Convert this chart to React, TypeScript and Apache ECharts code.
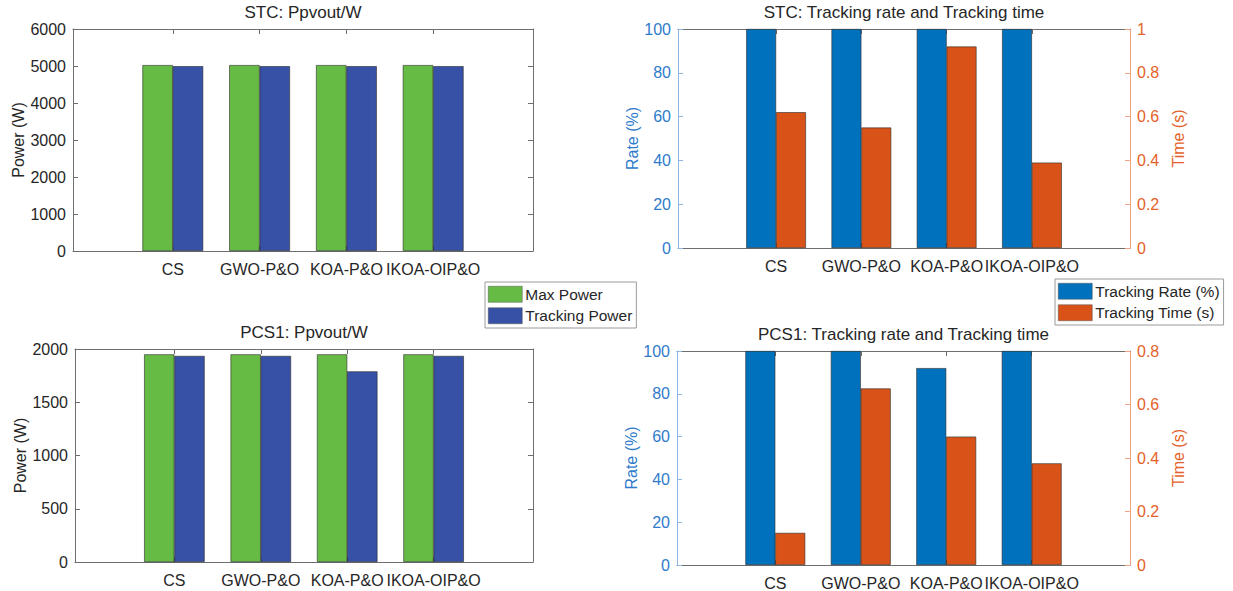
import React, { useEffect, useRef } from 'react';
import * as echarts from 'echarts';

const categories = ['CS', 'GWO-P&O', 'KOA-P&O', 'IKOA-OIP&O'];
const stcMaxPower = [5025, 5025, 5025, 5025];
const stcTrackingPower = [4995, 4995, 4995, 4995];
const pcsMaxPower = [1950, 1950, 1950, 1950];
const pcsTrackingPower = [1935, 1935, 1790, 1935];
const stcRate = [100, 100, 100, 100];
const stcTime = [0.62, 0.55, 0.92, 0.39];
const pcsRate = [100, 100, 92, 100];
const pcsTime = [0.12, 0.66, 0.48, 0.38];

const stcPowerTicks = [0, 1000, 2000, 3000, 4000, 5000, 6000];
const pcsPowerTicks = [0, 500, 1000, 1500, 2000];
const rateTicks = [0, 20, 40, 60, 80, 100];
const stcTimeTicks = [0, 0.2, 0.4, 0.6, 0.8, 1];
const pcsTimeTicks = [0, 0.2, 0.4, 0.6, 0.8];

const titles = [
  'STC: Ppvout/W',
  'STC: Tracking rate and Tracking time',
  'PCS1: Ppvout/W',
  'PCS1: Tracking rate and Tracking time',
];

const FONT = '"Liberation Sans", Arial, Helvetica, sans-serif';
const TEXT = '#262626';
const AXIS = '#6e6e6e';
const GREEN = '#66BB44';
const NAVY = '#3651A5';
const BLUE = '#0072BD';
const ORANGE = '#D95319';
const BLUE_TXT = '#2F7BCB';
const ORANGE_TXT = '#E3622A';
const BLUE_LINE = '#8DB6E2';
const ORANGE_LINE = '#F2A27F';

const catPos = categories.map((_, i) => i + 1);

const grids = [
  { left: 73, top: 29, width: 460, height: 222 },
  { left: 678, top: 29, width: 452, height: 219 },
  { left: 75, top: 349, width: 458, height: 213 },
  { left: 677, top: 351, width: 453, height: 216 },
];

function xAxes(g: number) {
  const base = (position: string, showLabels: boolean) => ({
    type: 'value',
    gridIndex: g,
    position,
    min: -0.15,
    max: 5.15,
    axisLine: { show: true, onZero: false, lineStyle: { color: AXIS, width: 1 } },
    axisTick: { show: true, inside: true, length: 5, customValues: catPos, lineStyle: { color: AXIS } },
    axisLabel: {
      show: showLabels,
      customValues: catPos,
      formatter: (v: number) => categories[Math.round(v) - 1] ?? '',
      color: TEXT,
      fontSize: 16,
      fontFamily: FONT,
      margin: 10,
    },
    splitLine: { show: false },
  });
  return [base('bottom', true), base('top', false)];
}

function yAxis(
  g: number,
  position: string,
  ticks: number[],
  opts: { labels: boolean; name?: string; nameGap?: number; lineColor: string; textColor: string; decimals?: boolean }
) {
  return {
    type: 'value',
    gridIndex: g,
    position,
    min: ticks[0],
    max: ticks[ticks.length - 1],
    interval: ticks[1] - ticks[0],
    name: opts.name,
    nameLocation: 'middle',
    nameRotate: 90,
    nameGap: opts.nameGap ?? 40,
    nameTextStyle: { color: opts.textColor, fontSize: 16, fontFamily: FONT },
    axisLine: { show: true, onZero: false, lineStyle: { color: opts.lineColor, width: 1 } },
    axisTick: { show: true, inside: true, length: 5, lineStyle: { color: opts.lineColor } },
    axisLabel: {
      show: opts.labels,
      color: opts.textColor,
      fontSize: 16,
      fontFamily: FONT,
      margin: 7,
      formatter: (v: number) => (opts.decimals ? String(Math.round(v * 10) / 10) : String(v)),
    },
    splitLine: { show: false },
  };
}

function barSeries(name: string, g: number, yIdx: number, values: number[], color: string) {
  return {
    name,
    type: 'bar',
    xAxisIndex: 2 * g,
    yAxisIndex: yIdx,
    data: values.map((v, i) => [catPos[i], v]),
    barWidth: '35%',
    barGap: '0%',
    itemStyle: { color, borderColor: '#2a2a2a', borderWidth: 0.6 },
  };
}

export default function App() {
  const ref = useRef<HTMLDivElement>(null);
  useEffect(() => {
    if (!ref.current) return;
    const chart = echarts.init(ref.current, undefined, { renderer: 'svg' });
    const xAxis = [0, 1, 2, 3].flatMap((g) => xAxes(g));
    const yAxisArr = [
      yAxis(0, 'left', stcPowerTicks, { labels: true, name: 'Power (W)', nameGap: 46, lineColor: AXIS, textColor: TEXT }),
      yAxis(0, 'right', stcPowerTicks, { labels: false, lineColor: AXIS, textColor: TEXT }),
      yAxis(1, 'left', rateTicks, { labels: true, name: 'Rate (%)', nameGap: 37, lineColor: BLUE_LINE, textColor: BLUE_TXT }),
      yAxis(1, 'right', stcTimeTicks, { labels: true, name: 'Time (s)', nameGap: 40, lineColor: ORANGE_LINE, textColor: ORANGE_TXT, decimals: true }),
      yAxis(2, 'left', pcsPowerTicks, { labels: true, name: 'Power (W)', nameGap: 46, lineColor: AXIS, textColor: TEXT }),
      yAxis(2, 'right', pcsPowerTicks, { labels: false, lineColor: AXIS, textColor: TEXT }),
      yAxis(3, 'left', rateTicks, { labels: true, name: 'Rate (%)', nameGap: 37, lineColor: BLUE_LINE, textColor: BLUE_TXT }),
      yAxis(3, 'right', pcsTimeTicks, { labels: true, name: 'Time (s)', nameGap: 40, lineColor: ORANGE_LINE, textColor: ORANGE_TXT, decimals: true }),
    ];
    const titleOpts = titles.map((t, i) => ({
      text: t,
      left: grids[i].left + grids[i].width / 2,
      top: grids[i].top - 25,
      textAlign: 'center',
      padding: 0,
      textStyle: { color: TEXT, fontSize: 17, fontWeight: 'normal', fontFamily: FONT },
    }));
    const legendBase = {
      orient: 'vertical',
      itemWidth: 34,
      itemHeight: 16,
      itemGap: 5,
      icon: 'rect',
      borderColor: '#9a9a9a',
      borderWidth: 1,
      padding: [4, 4, 4, 3],
      backgroundColor: '#fff',
      itemStyle: { borderColor: '#555', borderWidth: 0.5 },
      textStyle: { color: TEXT, fontSize: 15.5, fontFamily: FONT, padding: [0, 0, 0, -2] },
    };
    chart.setOption({
      animation: false,
      backgroundColor: '#fff',
      title: titleOpts,
      grid: grids.map((g) => ({ ...g, containLabel: false })),
      xAxis,
      yAxis: yAxisArr,
      legend: [
        { ...legendBase, left: 485, top: 282, data: ['Max Power', 'Tracking Power'] },
        { ...legendBase, left: 1055, top: 279, data: ['Tracking Rate (%)', 'Tracking Time (s)'] },
      ],
      series: [
        barSeries('Max Power', 0, 0, stcMaxPower, GREEN),
        barSeries('Tracking Power', 0, 0, stcTrackingPower, NAVY),
        barSeries('Tracking Rate (%)', 1, 2, stcRate, BLUE),
        barSeries('Tracking Time (s)', 1, 3, stcTime, ORANGE),
        barSeries('Max Power', 2, 4, pcsMaxPower, GREEN),
        barSeries('Tracking Power', 2, 4, pcsTrackingPower, NAVY),
        barSeries('Tracking Rate (%)', 3, 6, pcsRate, BLUE),
        barSeries('Tracking Time (s)', 3, 7, pcsTime, ORANGE),
      ],
    });
    return () => chart.dispose();
  }, []);
  return (
    <div
      ref={ref}
      style={{ position: 'absolute', left: 0, top: 0, width: 1233, height: 591, background: '#fff' }}
    />
  );
}
